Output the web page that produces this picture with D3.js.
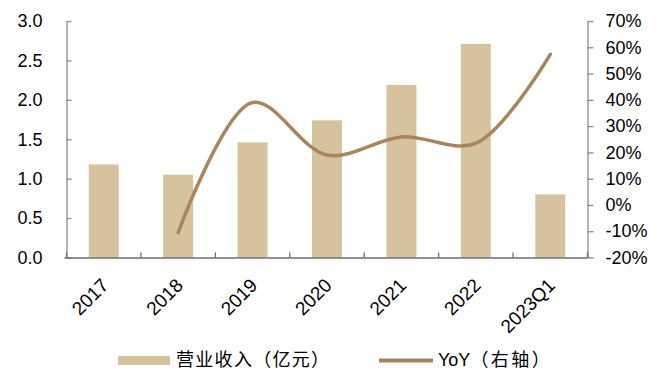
<!DOCTYPE html>
<html><head><meta charset="utf-8">
<script src="https://cdn.jsdelivr.net/npm/d3@7/dist/d3.min.js"></script>
<style>body{margin:0;background:#fff}svg{display:block}</style>
</head><body>
<svg id="c" width="656" height="370"></svg>
<script>
const categories = ["2017","2018","2019","2020","2021","2022","2023Q1"];
const revenue = [1.18, 1.05, 1.46, 1.74, 2.19, 2.71, 0.80];
const yoy = [null, -10.5, 39.0, 19.0, 25.9, 23.5, 57.3];
const leftTicks = [0, 0.5, 1.0, 1.5, 2.0, 2.5, 3.0];
const rightTicks = [-20, -10, 0, 10, 20, 30, 40, 50, 60, 70];
const legendLabels = ["营业收入（亿元）", "YoY", "（右轴）"];

const svg = d3.select("#c");
const m = {l: 66.5, r: 68.5, t: 21, b: 112.5};
const W = 656, H = 370;
const xb = d3.scaleBand().domain(categories).range([m.l, W - m.r]);
const yL = d3.scaleLinear().domain([0, 3]).range([H - m.b, m.t]);
const yR = d3.scaleLinear().domain([-20, 70]).range([H - m.b, m.t]);
const barColor = "#d4c39c", lineColor = "#a9855a", axisColor = "#8c8c8c";
const font = "Arial, 'Liberation Sans', sans-serif";
const cjk = "'Noto Sans CJK SC', sans-serif";

// bars
svg.append("g").selectAll("rect").data(revenue).join("rect")
  .attr("x", (d, i) => xb(categories[i]) + xb.bandwidth() / 2 - 15)
  .attr("width", 30)
  .attr("y", d => yL(d))
  .attr("height", d => yL(0) - yL(d))
  .attr("fill", barColor);

// left axis
const gL = svg.append("g").attr("transform", `translate(${m.l},0)`)
  .call(d3.axisLeft(yL).tickValues(leftTicks).tickFormat(d3.format(".1f")).tickSizeInner(-5).tickSizeOuter(0).tickPadding(24));
gL.select(".domain").attr("stroke", axisColor).attr("stroke-width", 1.3);
gL.selectAll(".tick line").attr("stroke", axisColor).attr("stroke-width", 1.3);
gL.selectAll("text").attr("font-family", font).attr("font-size", 18).attr("fill", "#000");

// right axis
const gR = svg.append("g").attr("transform", `translate(${W - m.r},0)`)
  .call(d3.axisRight(yR).tickValues(rightTicks).tickFormat(d => d + "%").tickSizeInner(6).tickSizeOuter(0).tickPadding(12));
gR.select(".domain").attr("stroke", axisColor).attr("stroke-width", 1.3);
gR.selectAll(".tick line").attr("stroke", axisColor).attr("stroke-width", 1.3);
gR.selectAll("text").attr("font-family", font).attr("font-size", 18).attr("fill", "#000");

// bottom axis
const gB = svg.append("g").attr("transform", `translate(0,${H - m.b})`)
  .call(d3.axisBottom(xb).tickSize(0).tickFormat(""));
gB.select(".domain").attr("stroke", "#6e6e6e").attr("stroke-width", 1.3).attr("d", `M${m.l - 2},0.5H${W - m.r}`);
const bTicks = d3.range(categories.length + 1).map(i => m.l + i * xb.step());
gB.selectAll("line.bt").data(bTicks).join("line").attr("class", "bt")
  .attr("x1", d => d).attr("x2", d => d).attr("y1", 0).attr("y2", -5)
  .attr("stroke", "#6e6e6e").attr("stroke-width", 1.3);
gB.selectAll("text.xl").data(categories).join("text").attr("class", "xl")
  .attr("transform", d => `translate(${xb(d) + xb.bandwidth() / 2 + 6},${29}) rotate(-45)`)
  .attr("text-anchor", "end")
  .attr("font-family", font).attr("font-size", 19).attr("fill", "#000")
  .text(d => d);

// YoY line
const pts = yoy.map((v, i) => [xb(categories[i]) + xb.bandwidth() / 2, v]).filter(p => p[1] !== null);
svg.append("path")
  .attr("d", d3.line().x(p => p[0]).y(p => yR(p[1])).curve(d3.curveCatmullRom.alpha(0.5))(pts))
  .attr("fill", "none").attr("stroke", lineColor).attr("stroke-width", 3.5).attr("stroke-linecap", "round");

// legend
const lg = svg.append("g");
lg.append("rect").attr("x", 118).attr("y", 356).attr("width", 52).attr("height", 9).attr("fill", barColor);
lg.append("text").attr("x", 176).attr("y", 366).attr("font-family", cjk)
  .attr("font-size", 18).attr("letter-spacing", 1.3).attr("fill", "#000").text(legendLabels[0]);
lg.append("line").attr("x1", 379).attr("x2", 433).attr("y1", 360.5).attr("y2", 360.5)
  .attr("stroke", lineColor).attr("stroke-width", 4);
const t2 = lg.append("text").attr("x", 438).attr("y", 366).attr("fill", "#000").attr("font-size", 18);
t2.append("tspan").attr("font-family", font).text(legendLabels[1]);
t2.append("tspan").attr("font-family", cjk).attr("letter-spacing", 2.5).text(legendLabels[2]);
</script>
</body></html>
